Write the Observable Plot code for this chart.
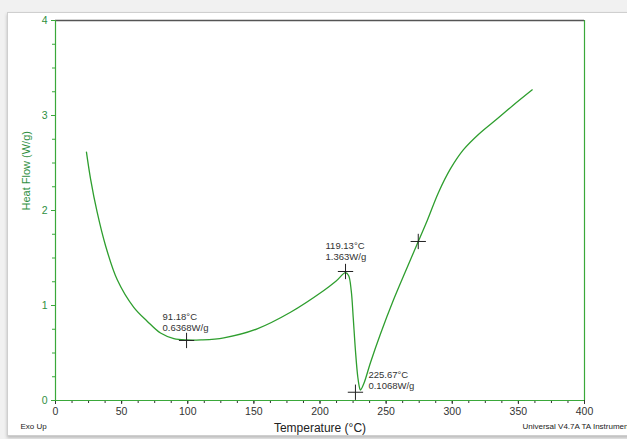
<!DOCTYPE html>
<html>
<head>
<meta charset="utf-8">
<script src="https://cdn.jsdelivr.net/npm/d3@7"></script>
<script src="https://cdn.jsdelivr.net/npm/@observablehq/plot@0.6"></script>
<style>
  html, body { margin: 0; padding: 0; background: #f1f1f1; }
  #wrap { position: relative; width: 627px; height: 439px; overflow: hidden; }
  #panel { position: absolute; left: 7px; top: 12px; width: 625px; height: 422px; background: #fff; border: 1px solid #cfcfcf; box-shadow: 0 2px 3px #bbb; }
  #chart { position: absolute; left: 0; top: 0; }
  svg { font-family: "Liberation Sans", Arial, sans-serif; }
</style>
</head>
<body>
<div id="wrap"><div id="panel"></div><div id="chart"></div></div>
<script>
// Curve: temperature (°C) and heat flow (W/g)
const temperature = [23.4, 26.5, 31.5, 37.8, 46.7, 59.2, 69.3, 79.4, 89.5, 99.1, 110.0, 127.3, 152.5, 177.7, 202.9, 212.0, 219.3, 221.6, 223.6, 225.1, 226.8, 228.6, 230.1, 230.6, 233.1, 238.2, 245.7, 255.6, 265.9, 274.3, 281.1, 289.6, 298.7, 308.5, 319.8, 334.0, 346.3, 360.5];
const heatFlow    = [2.614, 2.334, 1.982, 1.632, 1.270, 0.980, 0.835, 0.710, 0.652, 0.637, 0.638, 0.660, 0.755, 0.929, 1.158, 1.255, 1.345, 1.316, 1.158, 0.877, 0.526, 0.245, 0.123, 0.110, 0.176, 0.400, 0.700, 1.060, 1.400, 1.674, 1.895, 2.190, 2.440, 2.640, 2.800, 2.965, 3.110, 3.270];

// Cross markers
const markTemp = [99.1, 219.3, 226.8, 274.3];
const markHeat = [0.632, 1.358, 0.087, 1.674];

// Annotation texts
const annotations = ["91.18°C\n0.6368W/g", "119.13°C\n1.363W/g", "225.67°C\n0.1068W/g"];

// Tick labels
const xTicks = [0, 50, 100, 150, 200, 250, 300, 350, 400];
const yTicks = [0, 1, 2, 3, 4];

const curve = temperature.map((t, i) => ({t, h: heatFlow[i]}));
const marks = markTemp.map((t, i) => ({t, h: markHeat[i]}));
const xMinor = d3.range(0, 400.01, 12.5);
const yMinor = d3.range(0, 4.001, 0.25);

const green = "#2e9e2e";
const axisGreen = "#3aa83a";

const ann = (i, dx, dy) => Plot.text([{...marks[i], label: annotations[i]}], {
  x: "t", y: "h", text: "label", dx, dy,
  textAnchor: "start", lineAnchor: "top", fontSize: 9.5, lineHeight: 1.15, fill: "#333"
});

const chart = Plot.plot({
  width: 627,
  height: 439,
  marginLeft: 55,
  marginRight: 43,
  marginTop: 20,
  marginBottom: 39,
  style: {background: "transparent", fontFamily: "Liberation Sans, Arial, sans-serif", overflow: "visible"},
  x: {domain: [0, 400]},
  y: {domain: [0, 4]},
  marks: [
    Plot.axisX({ticks: xMinor, tickSize: 3, text: null, label: null, stroke: "#333"}),
    Plot.axisX({ticks: xTicks, tickSize: 4, tickPadding: 3, fontSize: 10.5, fill: "#333", stroke: "#333", label: null, tickFormat: "d"}),
    Plot.axisY({ticks: yMinor, tickSize: 3, text: null, label: null, stroke: axisGreen}),
    Plot.axisY({ticks: yTicks, tickSize: 4, tickPadding: 4, fontSize: 10.5, fill: "#2f8f3f", stroke: axisGreen, label: null, tickFormat: "d"}),
    Plot.ruleY([4], {stroke: "#555", strokeWidth: 1.5}),
    Plot.ruleX([0], {stroke: axisGreen, strokeWidth: 1.2}),
    Plot.ruleX([400], {stroke: axisGreen, strokeWidth: 1.2}),
    Plot.ruleY([0], {stroke: axisGreen, strokeWidth: 1.2}),
    Plot.line(curve, {x: "t", y: "h", stroke: green, strokeWidth: 1.3, curve: "catmull-rom"}),
    Plot.dot(marks, {x: "t", y: "h", symbol: "plus", r: 5, stroke: "#222", strokeWidth: 1}),
    ann(0, -24, -28),
    ann(1, -20, -30),
    ann(2, 13, -22),
    Plot.text(["Heat Flow (W/g)"], {frameAnchor: "left", rotate: -90, dx: -29, fontSize: 11, fill: "#2f8f3f"}),
    Plot.text(["Temperature (°C)"], {frameAnchor: "bottom", dy: 31, fontSize: 12, fill: "#222"}),
    Plot.text(["Exo Up"], {frameAnchor: "bottom-left", dx: -35, dy: 28, textAnchor: "start", fontSize: 8, fill: "#222"}),
    Plot.text(["Universal V4.7A TA Instruments"], {frameAnchor: "bottom-right", dx: -62, dy: 28, textAnchor: "start", fontSize: 8, fill: "#222"})
  ]
});
document.getElementById("chart").appendChild(chart);
</script>
</body>
</html>
